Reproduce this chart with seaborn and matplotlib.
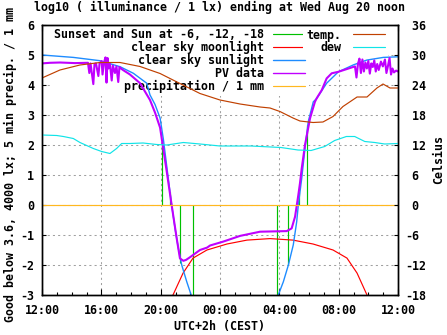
import matplotlib
matplotlib.use("Agg")
import matplotlib.pyplot as plt
import seaborn as sns
import pandas as pd
from matplotlib.lines import Line2D
from matplotlib.ticker import MultipleLocator

# ---------------- data (hours since 12:00 Tue) ----------------
tick_hours = [0, 4, 8, 12, 16, 20, 24]
tick_labels = ["12:00", "16:00", "20:00", "00:00", "04:00", "08:00", "12:00"]
left_ticks = [-3, -2, -1, 0, 1, 2, 3, 4, 5, 6]
right_ticks = [-18, -12, -6, 0, 6, 12, 18, 24, 30, 36]

# sunset and sun at -6, -12, -18 markers
sun_h = [8.07, 8.61, 9.32, 10.2, 15.82, 16.6, 17.35, 17.89]
sun_top = [2.0, 0.45, -1.93, -3.5, -3.5, -2.0, 0.45, 2.67]

# clear sky moonlight (log10 lx)
moon_h = [8.76, 8.83, 9.51, 10.18, 11.12, 12.47, 13.82, 15.37, 16.92, 18.27,
          19.62, 20.56, 21.24, 21.91, 21.98]
moon_v = [-3.2, -3.0, -2.27, -1.77, -1.5, -1.3, -1.17, -1.12, -1.17, -1.3,
          -1.5, -1.77, -2.27, -3.0, -3.2]

# clear sky sunlight (log10 lx)
sunl_h = [0.0, 2.11, 3.91, 5.26, 6.16, 7.06, 7.28, 7.62, 7.96, 8.18, 8.51, 8.74,
          8.97, 9.19, 9.42, 9.76, 10.09, 10.3,
          15.78, 15.93, 16.27, 16.61, 16.94, 17.17, 17.28, 17.51, 17.73, 17.95,
          18.29, 18.52, 19.19, 19.98, 20.99, 21.89, 23.01, 24.0]
sunl_v = [5.0, 4.92, 4.81, 4.61, 4.39, 4.06, 3.67, 3.35, 2.9, 2.2, 0.9, 0.0,
          -0.78, -1.44, -2.0, -2.56, -3.05, -3.5,
          -3.5, -3.0, -2.56, -2.0, -1.33, -0.56, 0.0, 0.89, 1.89, 2.78,
          3.44, 3.55, 4.06, 4.44, 4.67, 4.83, 4.92, 4.94]

# PV data (log10 lx)
pv_h = [0.0, 0.54, 1.21, 2.22, 3.10, 3.19, 3.27, 3.46, 3.54, 3.64, 3.80, 3.88,
        4.02, 4.08, 4.18, 4.28, 4.35, 4.42, 4.48, 4.58, 4.70, 4.78, 4.92, 5.02,
        5.14, 5.22, 5.33, 5.46, 5.93, 6.61, 7.28, 7.62, 7.96, 8.41, 8.74, 9.08,
        9.30, 9.53, 9.71, 9.98, 10.65, 11.13, 11.33, 12.22, 13.35, 14.70, 16.50,
        16.83, 17.06, 17.28, 17.39, 17.51, 17.73, 18.07, 18.40, 18.52, 18.86,
        19.19, 19.53, 19.98, 20.54, 20.97, 21.1, 21.2, 21.3, 21.4, 21.5, 21.6,
        21.7, 21.8, 21.9, 22.0, 22.1, 22.2, 22.3, 22.4, 22.5, 22.6, 22.7, 22.85,
        22.98, 23.12, 23.22, 23.33, 23.43, 23.53, 23.63, 23.73, 23.87, 24.0]
pv_v = [4.72, 4.74, 4.75, 4.73, 4.74, 4.40, 4.72, 4.03, 4.70, 4.72, 4.30, 4.72,
        4.80, 4.35, 4.75, 4.92, 4.08, 4.90, 4.55, 4.70, 4.15, 4.65, 4.40, 4.62,
        4.10, 4.60, 4.55, 4.50, 4.35, 4.06, 3.50, 3.08, 2.58, 1.11, 0.0, -1.11,
        -1.78, -1.86, -1.83, -1.74, -1.5, -1.42, -1.35, -1.22, -1.03, -0.89, -0.87,
        -0.78, -0.39, 0.33, 0.72, 1.22, 2.0, 2.89, 3.44, 3.56, 3.83,
        4.22, 4.39, 4.44, 4.53, 4.60, 4.62, 4.25, 4.70, 4.88, 4.40, 4.85,
        4.45, 4.75, 4.55, 4.80, 4.38, 4.72, 4.60, 4.82, 4.45, 4.70, 4.50, 4.78,
        4.62, 4.85, 4.40, 4.65, 4.90, 4.35, 4.55, 4.42, 4.48, 4.45]

# precipitation / 1 mm
precip_h = [0.0, 24.0]
precip_v = [0.0, 0.0]

# temperature and dew point (Celsius)
temp_h = [0.0, 1.21, 2.56, 3.91, 5.26, 6.61, 7.96, 9.30, 10.65, 12.0, 13.35,
          14.70, 15.37, 16.04, 16.92, 17.39, 18.27, 18.94, 19.62, 20.29, 21.24,
          21.91, 22.58, 22.99, 23.46, 24.0]
temp_c = [25.4, 27.0, 28.0, 28.5, 28.5, 27.7, 26.3, 24.3, 22.3, 21.0, 20.2,
          19.6, 19.4, 18.7, 17.4, 16.8, 16.5, 16.6, 17.7, 19.7, 21.6,
          21.6, 23.4, 24.2, 23.4, 23.4]
dew_h = [0.0, 0.99, 1.44, 2.11, 2.56, 3.01, 3.46, 4.02, 4.58, 5.03, 5.37, 5.93,
         6.81, 7.73, 8.41, 9.53, 10.65, 12.0, 14.09, 16.11, 17.26, 18.14, 19.06,
         19.73, 20.52, 21.08, 21.76, 22.43, 23.1, 24.0]
dew_c = [14.0, 13.9, 13.7, 13.3, 12.5, 11.9, 11.3, 10.7, 10.3, 11.3, 12.3, 12.3,
         12.4, 12.1, 12.0, 12.5, 12.2, 11.8, 11.8, 11.5, 11.0, 10.9, 11.7,
         12.9, 13.7, 13.7, 12.7, 12.5, 12.2, 12.3]

# ---------------- style ----------------
sns.set_theme(style="white", rc={
    "axes.edgecolor": "black", "xtick.color": "black", "ytick.color": "black",
    "text.color": "black", "axes.labelcolor": "black", "axes.linewidth": 1.0,
})
plt.rcParams['font.family'] = ['DejaVu Sans Mono', 'DejaVu Sans']
plt.rcParams['font.weight'] = 'bold'
plt.rcParams['axes.labelweight'] = 'bold'
plt.rcParams['axes.unicode_minus'] = False

FS = 8.4
C_GREEN = "#00c000"
C_RED = "#ff0000"
C_BLUE = "#1e8cff"
C_PURPLE = "#c000ff"
C_ORANGE = "#ffb820"
C_BROWN = "#c04000"
C_CYAN = "#10e4e8"

fig = plt.figure(figsize=(4.47, 3.35), dpi=100)
ax = fig.add_axes([42 / 447, 40 / 335, 356 / 447, 270 / 335])
ax2 = ax.twinx()

# ---------------- marks ----------------
ax.vlines(sun_h, 0, sun_top, colors=C_GREEN, linewidth=0.85, zorder=2.1)
sns.lineplot(x=moon_h, y=moon_v, ax=ax, color=C_RED, linewidth=0.85,
             estimator=None, sort=False, legend=False, zorder=2.2)
sns.lineplot(x=sunl_h, y=sunl_v, ax=ax, color=C_BLUE, linewidth=1.0,
             estimator=None, sort=False, legend=False, zorder=2.3)
sns.lineplot(x=pv_h, y=pv_v, ax=ax, color=C_PURPLE, linewidth=1.5,
             estimator=None, sort=False, legend=False, zorder=2.4)
sns.lineplot(x=precip_h, y=precip_v, ax=ax, color=C_ORANGE, linewidth=0.85,
             estimator=None, sort=False, legend=False, zorder=2.5)
sns.lineplot(x=temp_h, y=temp_c, ax=ax2, color=C_BROWN, linewidth=0.85,
             estimator=None, sort=False, legend=False)
sns.lineplot(x=dew_h, y=dew_c, ax=ax2, color=C_CYAN, linewidth=0.85,
             estimator=None, sort=False, legend=False)

# ---------------- axes ----------------
ax.set_xlim(0, 24)
ax.set_ylim(-3, 6)
ax2.set_ylim(-18, 36)
ax.set_xticks(tick_hours, labels=tick_labels)
ax.xaxis.set_minor_locator(MultipleLocator(1))
ax.set_yticks(left_ticks, labels=[str(v) for v in left_ticks])
ax2.set_yticks(right_ticks, labels=[f"{v: d}" for v in right_ticks])

ax.tick_params(axis='x', which='major', direction='in', length=4, width=0.8,
               top=True, bottom=True, labelsize=FS, pad=6.5)
ax.tick_params(axis='x', which='minor', direction='in', length=2.2, width=0.8,
               top=True, bottom=True)
ax.tick_params(axis='y', which='major', direction='in', length=3, width=0.8,
               left=True, right=False, labelsize=FS, pad=5.5)
ax2.tick_params(axis='y', which='major', direction='in', length=3, width=0.8,
                right=True, left=False, labelsize=FS, pad=5)

ax.set_axisbelow(True)
ax.grid(True, which='major', axis='both', color='#a0a0a0',
        linestyle=(0, (2, 3)), linewidth=0.75)
ax2.grid(False)
for sp in list(ax.spines.values()) + list(ax2.spines.values()):
    sp.set_color('black')
    sp.set_linewidth(1.0)

ax.set_xlabel("UTC+2h (CEST)", fontsize=FS)
ax.xaxis.set_label_coords(0.5, -0.093)
ax.set_ylabel("Good below 3.6, 4000 lx; 5 min precip. / 1 mm", fontsize=FS)
ax.yaxis.set_label_coords(-0.070, 0.485)
ax2.set_ylabel("Celsius", fontsize=FS)
ax2.yaxis.set_label_coords(1.096, 0.5)

fig.text(220 / 447, 1 - 1 / 335,
         "log10 ( illuminance / 1 lx) ending at Wed Aug 20 noon",
         ha='center', va='top', fontsize=FS, fontweight='bold')

# ---------------- legends ----------------
h1 = [Line2D([], [], color=C_GREEN, lw=0.85), Line2D([], [], color=C_RED, lw=0.85),
      Line2D([], [], color=C_BLUE, lw=1.0), Line2D([], [], color=C_PURPLE, lw=1.0),
      Line2D([], [], color=C_ORANGE, lw=0.85)]
l1 = ["Sunset and Sun at -6, -12, -18", "clear sky moonlight",
      "clear sky sunlight", "PV data", "precipitation / 1 mm"]
leg1 = ax.legend(h1, l1, loc='upper right', bbox_to_anchor=(0.7486, 1.0),
                 markerfirst=False, frameon=True, fancybox=False, framealpha=1,
                 facecolor='white', edgecolor='none', fontsize=FS,
                 handlelength=2.75, handletextpad=0.77, labelspacing=-0.02,
                 borderpad=0.3, borderaxespad=0)
leg1.set_zorder(1.5)
ax.add_artist(leg1)

h2 = [Line2D([], [], color=C_BROWN, lw=0.85), Line2D([], [], color=C_CYAN, lw=0.85)]
l2 = ["temp.", "dew"]
leg2 = ax.legend(h2, l2, loc='upper right', bbox_to_anchor=(0.973, 1.0),
                 markerfirst=False, frameon=True, fancybox=False, framealpha=1,
                 facecolor='white', edgecolor='none', fontsize=FS,
                 handlelength=2.75, handletextpad=1.0, labelspacing=-0.02,
                 borderpad=0.3, borderaxespad=0)
leg2.set_zorder(1.5)

fig.savefig("out.png", dpi=100)
